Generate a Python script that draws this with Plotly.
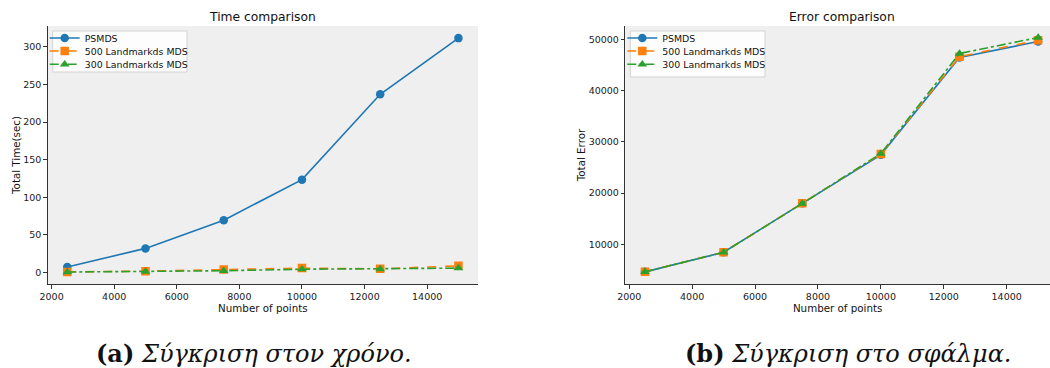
import plotly.graph_objects as go

# ---- data ----
n_points = [2500, 5000, 7500, 10000, 12500, 15000]
series_names = ["PSMDS", "500 Landmarkds MDS", "300 Landmarkds MDS"]
time_psmds = [7.5, 32.2, 69.7, 123.5, 236.9, 311.5]
time_lm500 = [1.0, 2.0, 4.0, 6.0, 5.0, 9.0]
time_lm300 = [0.8, 1.5, 2.5, 4.5, 4.8, 6.0]
err_psmds = [4620, 8440, 17990, 27450, 46430, 49550]
err_lm500 = [4620, 8440, 18000, 27600, 46600, 49800]
err_lm300 = [4620, 8440, 17950, 27700, 47210, 50330]
x_ticks = [2000, 4000, 6000, 8000, 10000, 12000, 14000]
time_ticks = [0, 50, 100, 150, 200, 250, 300]
err_ticks = [10000, 20000, 30000, 40000, 50000]
titles = ["Time comparison", "Error comparison"]
ylabels = ["Total Time(sec)", "Total Error"]
xlabel = "Number of points"
captions = ["<b>(a)</b> <i>Σύγκριση στον χρόνο.</i>", "<b>(b)</b> <i>Σύγκριση στο σφάλμα.</i>"]

W, H = 1050, 368
colors = ["#1f77b4", "#ff7f0e", "#2ca02c"]
dashes = ["solid", "dash", "dashdot"]
symbols = ["circle", "square", "triangle-up"]

fig = go.Figure()
panels = [("x", "y", [time_psmds, time_lm500, time_lm300]),
          ("x2", "y2", [err_psmds, err_lm500, err_lm300])]
leg_id = 0
for xa, ya, series in panels:
    for i, (ys, name) in enumerate(zip(series, series_names)):
        leg_id += 1
        fig.add_trace(go.Scatter(x=n_points, y=ys, name=name, mode="lines+markers",
                                 line=dict(color=colors[i], dash=dashes[i], width=1.6),
                                 marker=dict(symbol=symbols[i], size=8.5, color=colors[i]),
                                 xaxis=xa, yaxis=ya,
                                 legend="legend" if leg_id == 1 else f"legend{leg_id}"))

axfont = dict(family="DejaVu Sans", size=9.5, color="#1a1a1a")
labfont = dict(family="DejaVu Sans", size=10.3, color="#111")
common_x = dict(showline=True, linecolor="#333", linewidth=1, ticks="outside", ticklen=3.5,
                tickcolor="#333", showgrid=False, zeroline=False, tickfont=axfont,
                tickvals=x_ticks, tickformat="d", automargin=False,
                title=dict(text=xlabel, font=labfont, standoff=0))
common_y = dict(showline=True, linecolor="#333", linewidth=1, ticks="outside", ticklen=3.5,
                tickcolor="#333", showgrid=False, zeroline=False, tickfont=axfont,
                tickformat="d", automargin=False)

y_dom = [1 - 284 / H, 1 - 26 / H]
layout = dict(
    width=W, height=H, margin=dict(l=0, r=0, t=0, b=0),
    paper_bgcolor="white", plot_bgcolor="#efefef", showlegend=True,
    xaxis=dict(domain=[47.7 / W, 478 / W], range=[1875, 15625], anchor="y", **common_x),
    yaxis=dict(domain=y_dom, range=[-15.1, 327.6], tickvals=time_ticks, anchor="x",
               title=dict(text=ylabels[0], font=labfont, standoff=0), **common_y),
    xaxis2=dict(domain=[625.3 / W, 1.0], range=[1875, 15378], anchor="y2", **common_x),
    yaxis2=dict(domain=y_dom, range=[2250, 52580], tickvals=err_ticks, anchor="x2",
                title=dict(text=ylabels[1], font=labfont, standoff=1), **common_y),
)

# legends: one entry per legend so rows can sit close together like the original
legfont = dict(family="DejaVu Sans", size=9.4, color="#111")
leg_left = [52.7, 630.3]
row_y = [38, 51, 64.3]
leg_id = 0
for p in range(2):
    for r in range(3):
        leg_id += 1
        key = "legend" if leg_id == 1 else f"legend{leg_id}"
        layout[key] = dict(x=(leg_left[p] - 8) / W, y=1 - row_y[r] / H, xanchor="left", yanchor="middle",
                           bgcolor="rgba(0,0,0,0)", borderwidth=0, font=legfont, itemwidth=30)
fig.update_layout(**layout)

# legend frames
for p, (x0, x1, y1) in enumerate([(52.7, 187, 72), (630.3, 765, 77)]):
    fig.add_shape(type="rect", xref="paper", yref="paper", x0=x0 / W, x1=x1 / W,
                  y0=1 - y1 / H, y1=1 - 31 / H, layer="below",
                  fillcolor="rgba(255,255,255,0.85)", line=dict(color="#d3d3d3", width=1))

titlefont = dict(family="DejaVu Sans", size=12.3, color="#111")
fig.add_annotation(text=titles[0], x=(47.7 + 478) / 2 / W, y=1 - 17.5 / H, xref="paper", yref="paper",
                   showarrow=False, font=titlefont, xanchor="center", yanchor="middle")
fig.add_annotation(text=titles[1], x=(625.3 + 1057.8) / 2 / W, y=1 - 17.5 / H, xref="paper", yref="paper",
                   showarrow=False, font=titlefont, xanchor="center", yanchor="middle")
capfont = dict(family="DejaVu Serif", size=24, color="#111")
fig.add_annotation(text=captions[0], x=254 / W, y=1 - 353 / H, xref="paper", yref="paper",
                   showarrow=False, font=capfont, xanchor="center", yanchor="middle")
fig.add_annotation(text=captions[1], x=848 / W, y=1 - 353 / H, xref="paper", yref="paper",
                   showarrow=False, font=capfont, xanchor="center", yanchor="middle")

fig.write_html("out.html")
